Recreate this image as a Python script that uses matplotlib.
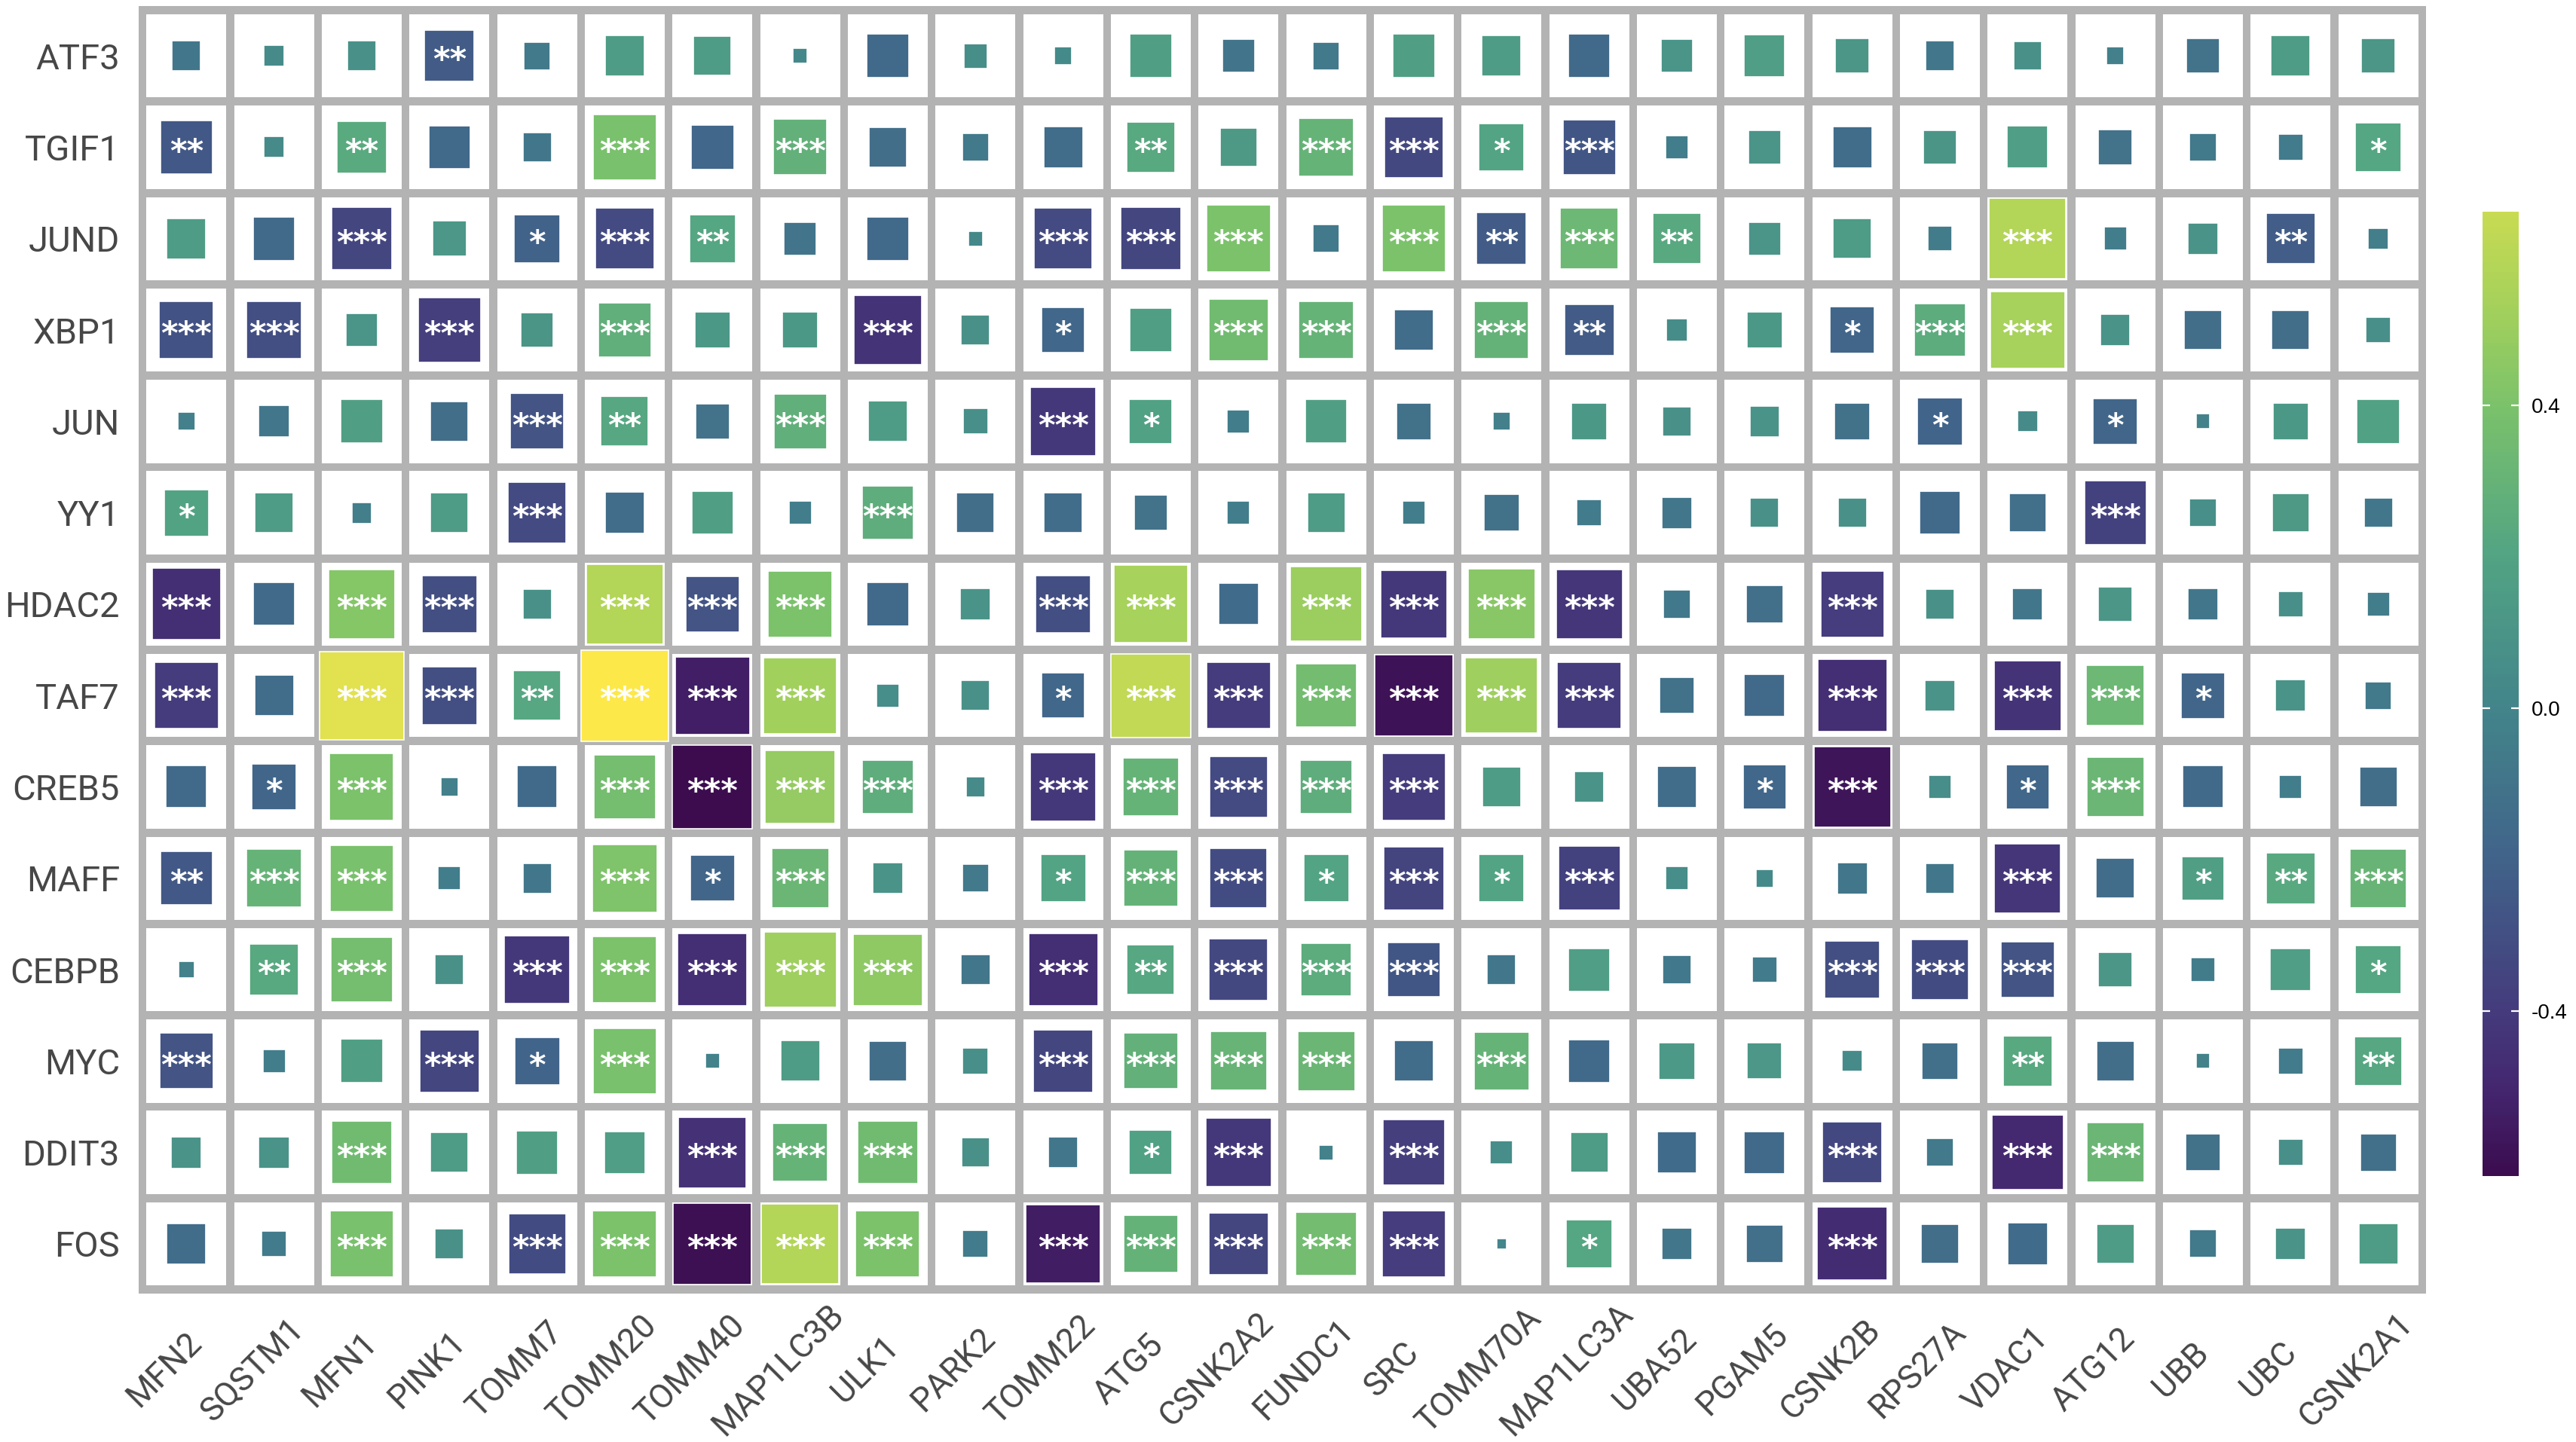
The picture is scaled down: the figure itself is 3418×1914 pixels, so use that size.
import numpy as np
import matplotlib
matplotlib.use("Agg")
import matplotlib.pyplot as plt
from matplotlib.patches import Rectangle
from matplotlib.colors import LinearSegmentedColormap, Normalize
from matplotlib.transforms import ScaledTranslation

tfs = ["ATF3", "TGIF1", "JUND", "XBP1", "JUN", "YY1", "HDAC2", "TAF7",
       "CREB5", "MAFF", "CEBPB", "MYC", "DDIT3", "FOS"]
genes = ["MFN2", "SQSTM1", "MFN1", "PINK1", "TOMM7", "TOMM20", "TOMM40",
         "MAP1LC3B", "ULK1", "PARK2", "TOMM22", "ATG5", "CSNK2A2", "FUNDC1",
         "SRC", "TOMM70A", "MAP1LC3A", "UBA52", "PGAM5", "CSNK2B", "RPS27A",
         "VDAC1", "ATG12", "UBB", "UBC", "CSNK2A1"]

# correlation values (rows = tfs, cols = genes)
corr = np.array([
    [-0.08, 0.04, 0.08, -0.24, -0.07, 0.15, 0.14, 0.02, -0.17, 0.055, 0.03, 0.17, -0.10,
     -0.07, 0.17, 0.15, -0.17, 0.10, 0.16, 0.11, -0.08, 0.075, -0.03, -0.11, 0.15, 0.11],
    [-0.26, 0.04, 0.24, -0.17, -0.08, 0.39, -0.18, 0.28, -0.14, -0.07, -0.15, 0.23, 0.13,
     0.30, -0.34, 0.20, -0.27, -0.05, 0.10, -0.15, 0.105, 0.16, -0.11, -0.07, -0.06, 0.21],
    [0.15, -0.17, -0.35, 0.115, -0.21, -0.33, 0.21, -0.10, -0.17, 0.02, -0.33, -0.35, 0.40,
     -0.07, 0.40, -0.24, 0.33, 0.23, 0.10, 0.145, -0.055, 0.58, -0.05, 0.09, -0.23, -0.04],
    [-0.29, -0.30, 0.095, -0.38, 0.105, 0.27, 0.12, 0.12, -0.44, 0.08, -0.18, 0.17, 0.35,
     0.30, -0.15, 0.29, -0.24, 0.045, 0.12, -0.19, 0.25, 0.54, 0.087, -0.14, -0.14, 0.06],
    [-0.03, -0.09, 0.17, -0.14, -0.28, 0.22, -0.11, 0.27, 0.15, 0.06, -0.42, 0.18, -0.05,
     0.17, -0.12, -0.03, 0.12, 0.08, 0.087, -0.12, -0.20, 0.04, -0.19, -0.02, 0.12, 0.18],
    [0.195, 0.14, -0.04, 0.14, -0.33, -0.15, 0.17, -0.05, 0.26, -0.14, -0.145, -0.11, -0.05,
     0.14, -0.05, -0.12, -0.06, -0.09, 0.08, 0.08, -0.165, -0.13, -0.37, 0.07, 0.13, -0.08],
    [-0.46, -0.165, 0.43, -0.30, 0.08, 0.58, -0.28, 0.40, -0.17, 0.09, -0.30, 0.54, -0.155,
     0.50, -0.42, 0.44, -0.43, -0.075, -0.13, -0.39, 0.08, -0.09, 0.11, -0.09, 0.06, -0.05],
    [-0.40, -0.15, 0.70, -0.30, 0.22, 0.75, -0.54, 0.52, 0.05, 0.08, -0.18, 0.63, -0.40,
     0.36, -0.59, 0.51, -0.40, -0.12, -0.16, -0.47, 0.087, -0.44, 0.33, -0.19, 0.09, -0.07],
    [-0.16, -0.19, 0.40, -0.03, -0.16, 0.37, -0.62, 0.48, 0.26, 0.035, -0.42, 0.30, -0.33,
     0.26, -0.40, 0.145, 0.087, -0.15, -0.18, -0.58, 0.05, -0.18, 0.32, -0.16, -0.05, -0.14],
    [-0.26, 0.30, 0.39, -0.05, -0.08, 0.41, -0.19, 0.32, 0.087, -0.07, 0.20, 0.29, -0.32,
     0.20, -0.36, 0.20, -0.37, 0.05, 0.03, -0.09, -0.08, -0.43, -0.145, 0.17, 0.235, 0.31],
    [-0.025, 0.23, 0.37, 0.08, -0.42, 0.40, -0.47, 0.51, 0.46, -0.085, -0.47, 0.22, -0.34,
     0.25, -0.27, -0.08, 0.165, -0.077, -0.06, -0.30, -0.32, -0.28, 0.11, -0.055, 0.16, 0.21],
    [-0.28, -0.05, 0.17, -0.35, -0.20, 0.39, -0.02, 0.15, -0.14, 0.065, -0.35, 0.28, 0.31,
     0.32, -0.15, 0.30, -0.165, 0.126, 0.117, 0.04, -0.126, 0.23, -0.14, -0.02, -0.06, 0.22],
    [0.09, 0.09, 0.35, 0.14, 0.17, 0.16, -0.45, 0.30, 0.35, 0.077, -0.087, 0.18, -0.42,
     -0.02, -0.38, 0.05, 0.14, -0.155, -0.16, -0.34, -0.07, -0.50, 0.32, -0.12, 0.06, -0.126],
    [-0.15, -0.06, 0.39, 0.08, -0.32, 0.40, -0.60, 0.58, 0.40, -0.063, -0.55, 0.29, -0.35,
     0.36, -0.39, 0.01, 0.21, -0.09, -0.13, -0.48, -0.14, -0.155, 0.14, -0.07, 0.09, 0.15],
])

# number of significance stars per cell
sig = np.array([
    [0, 0, 0, 2, 0, 0, 0, 0, 0, 0, 0, 0, 0, 0, 0, 0, 0, 0, 0, 0, 0, 0, 0, 0, 0, 0],
    [2, 0, 2, 0, 0, 3, 0, 3, 0, 0, 0, 2, 0, 3, 3, 1, 3, 0, 0, 0, 0, 0, 0, 0, 0, 1],
    [0, 0, 3, 0, 1, 3, 2, 0, 0, 0, 3, 3, 3, 0, 3, 2, 3, 2, 0, 0, 0, 3, 0, 0, 2, 0],
    [3, 3, 0, 3, 0, 3, 0, 0, 3, 0, 1, 0, 3, 3, 0, 3, 2, 0, 0, 1, 3, 3, 0, 0, 0, 0],
    [0, 0, 0, 0, 3, 2, 0, 3, 0, 0, 3, 1, 0, 0, 0, 0, 0, 0, 0, 0, 1, 0, 1, 0, 0, 0],
    [1, 0, 0, 0, 3, 0, 0, 0, 3, 0, 0, 0, 0, 0, 0, 0, 0, 0, 0, 0, 0, 0, 3, 0, 0, 0],
    [3, 0, 3, 3, 0, 3, 3, 3, 0, 0, 3, 3, 0, 3, 3, 3, 3, 0, 0, 3, 0, 0, 0, 0, 0, 0],
    [3, 0, 3, 3, 2, 3, 3, 3, 0, 0, 1, 3, 3, 3, 3, 3, 3, 0, 0, 3, 0, 3, 3, 1, 0, 0],
    [0, 1, 3, 0, 0, 3, 3, 3, 3, 0, 3, 3, 3, 3, 3, 0, 0, 0, 1, 3, 0, 1, 3, 0, 0, 0],
    [2, 3, 3, 0, 0, 3, 1, 3, 0, 0, 1, 3, 3, 1, 3, 1, 3, 0, 0, 0, 0, 3, 0, 1, 2, 3],
    [0, 2, 3, 0, 3, 3, 3, 3, 3, 0, 3, 2, 3, 3, 3, 0, 0, 0, 0, 3, 3, 3, 0, 0, 0, 1],
    [3, 0, 0, 3, 1, 3, 0, 0, 0, 0, 3, 3, 3, 3, 0, 3, 0, 0, 0, 0, 0, 2, 0, 0, 0, 2],
    [0, 0, 3, 0, 0, 0, 3, 3, 3, 0, 0, 1, 3, 0, 3, 0, 0, 0, 0, 3, 0, 3, 3, 0, 0, 0],
    [0, 0, 3, 0, 3, 3, 3, 3, 3, 0, 3, 3, 3, 3, 3, 0, 1, 0, 0, 3, 0, 0, 0, 0, 0, 0],
])

cbar_ticks = [-0.4, 0.0, 0.4]
cbar_ticklabels = ["-0.4", "0.0", "0.4"]

# colour scale (a muted viridis, as in the picture)
vmin, vmax = -0.62, 0.75
anchors = [(-0.62, "#3c0c4f"), (-0.51, "#44266f"), (-0.40, "#453c7d"),
           (-0.20, "#41648a"), (0.0, "#43858b"), (0.20, "#52a484"),
           (0.40, "#7bc26b"), (0.53, "#a4d15c"), (0.655, "#c8db53"),
           (0.75, "#fde84a")]
cmap = LinearSegmentedColormap.from_list(
    "muted_viridis", [((v - vmin) / (vmax - vmin), c) for v, c in anchors])
norm = Normalize(vmin, vmax)
rmax = np.abs(corr).max()

plt.rcParams['font.family'] = ['Roboto', 'DejaVu Sans']

fig = plt.figure(figsize=(17.09, 9.57), dpi=200)
ax = fig.add_axes([0.0538, 0.1029, 0.888, 0.8929])
ax.set_facecolor("#b3b3b3")
gap = 0.09

nr, nc = corr.shape
for i in range(nr):
    for j in range(nc):
        ax.add_patch(Rectangle((j - 0.5 + gap / 2, i - 0.5 + gap / 2), 1 - gap, 1 - gap,
                               facecolor="white", edgecolor="none", zorder=1))
        r = corr[i, j]
        w = min(1.0, np.sqrt(abs(r) / rmax))
        ax.add_patch(Rectangle((j - w / 2, i - w / 2), w, w, facecolor=cmap(norm(r)),
                               edgecolor="white", linewidth=0.6, zorder=2))
        if sig[i, j] > 0:
            ax.text(j, i + 0.06, "*" * sig[i, j], ha="center", va="center",
                    color="white", fontsize=15.5, fontweight="bold",
                    family="DejaVu Sans", zorder=3)

ax.set_xlim(-0.5 - gap / 2, nc - 0.5 + gap / 2)
ax.set_ylim(nr - 0.5 + gap / 2, -0.5 - gap / 2)
for s in ax.spines.values():
    s.set_visible(False)
ax.set_xticks(range(nc))
ax.set_yticks(range(nr))
ax.set_yticklabels(tfs, fontsize=17, color="#474747")
ax.set_xticklabels(genes, fontsize=16, color="#474747", rotation=45,
                   ha="center", va="center", rotation_mode="anchor")
ax.tick_params(axis="both", length=0)
ax.tick_params(axis="y", pad=9)
ax.tick_params(axis="x", pad=36.5)
off = ScaledTranslation(-10.4 / 72, 0, fig.dpi_scale_trans)
for lab in ax.get_xticklabels():
    lab.set_transform(lab.get_transform() + off)

# colour bar
cax = fig.add_axes([0.9637, 0.1844, 0.01404, 0.6688])
lo, hi = -0.618, 0.656
grad = np.linspace(lo, hi, 300)[:, None]
cax.imshow(grad, cmap=cmap, norm=norm, aspect="auto", origin="lower",
           extent=[0, 1, lo, hi])
cax.set_xlim(0, 1)
cax.set_ylim(lo, hi)
cax.set_xticks([])
for s in cax.spines.values():
    s.set_visible(False)
cax.yaxis.tick_right()
cax.set_yticks(cbar_ticks)
cax.set_yticklabels(cbar_ticklabels, fontsize=10, family="Liberation Sans", color="black")
cax.tick_params(axis="y", direction="in", length=3.6, width=0.8, color="white",
                left=True, right=True, pad=6)

fig.savefig("out.png", dpi=200)
